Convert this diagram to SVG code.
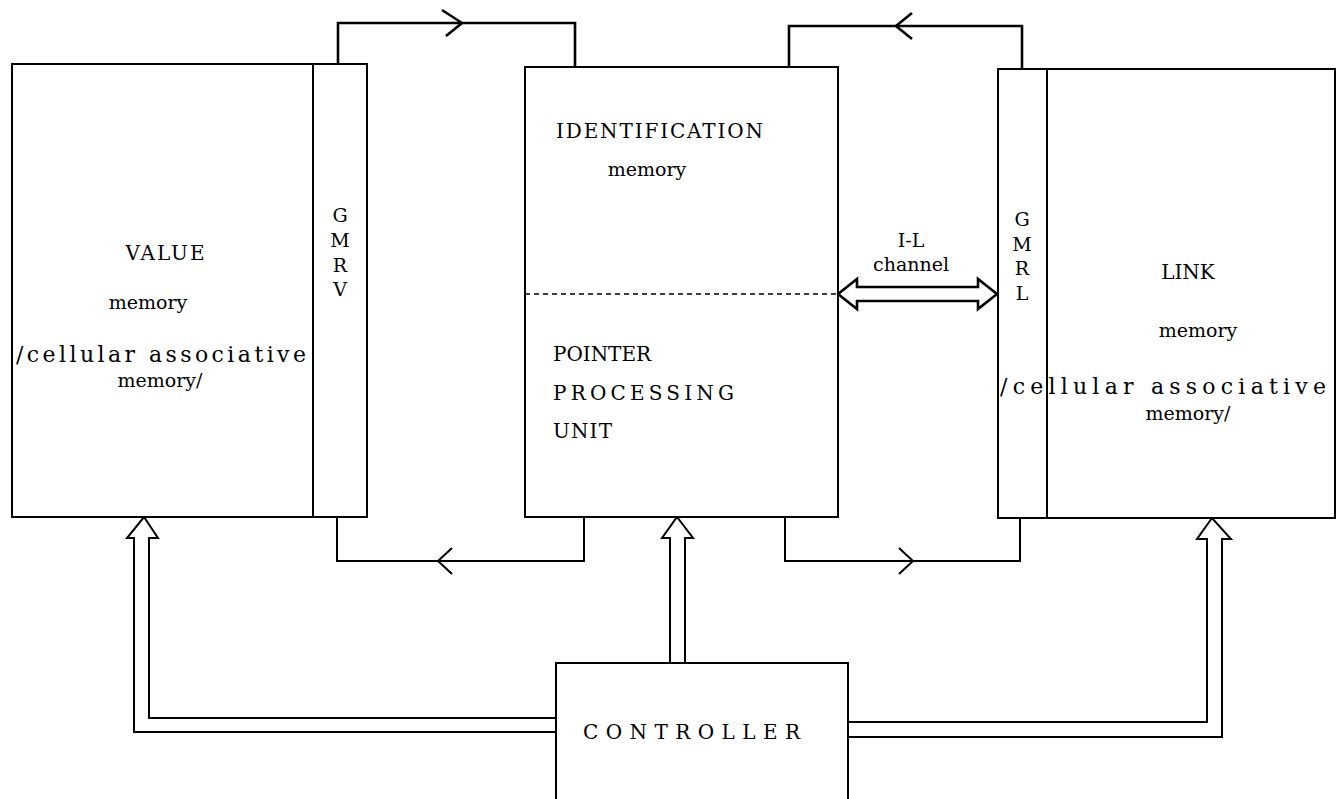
<svg xmlns="http://www.w3.org/2000/svg" width="1337" height="799" viewBox="0 0 1337 799">
<style>
.box{fill:#fff;stroke:#000;stroke-width:2}
.ln{fill:none;stroke:#000;stroke-width:2;stroke-linejoin:miter}
.thk{fill:none;stroke:#000;stroke-width:2.6}
.dash{fill:none;stroke:#000;stroke-width:1.6;stroke-dasharray:5,4}
text{font-family:"DejaVu Serif","Liberation Serif",serif;font-size:19px;fill:#000}
.cap{font-size:20px}
.wide{font-size:22px}
.c{text-anchor:middle}
</style>
<rect width="1337" height="799" fill="#fff"/>
<g id="connectors">
  <path class="thk" d="M338,64 V23 H575 V67"/>
  <path class="thk" d="M442,10 L462,23 L446,36"/>
  <path class="thk" d="M789,68 V26 H1022 V69"/>
  <path class="thk" d="M912,13 L896,26 L912,39"/>
  <path class="ln" d="M584,517 V561 H337 V517"/>
  <path class="ln" d="M452,548 L438,561 L452,574"/>
  <path class="ln" d="M785,517 V561 H1020 V517"/>
  <path class="ln" d="M899,548 L913,561 L899,574"/>
  <path class="thk" d="M838,294 L857,279 V287 H978 V279 L997,294 L978,309 V301 H857 V309 Z"/>
  <path class="ln" d="M556,718 H149 V538 H158 L144,517 L127,538 H134 V732 H556"/>
  <path class="ln" d="M848,722 H1207 V539 H1197 L1212,518 L1231,539 H1222 V737 H848"/>
  <path class="ln" d="M670,663 V538 H662 L677,517 L693,538 H685 V663"/>
</g>
<g id="value">
  <rect class="box" x="12" y="64" width="301" height="453"/>
  <text x="166" y="260" class="c cap" letter-spacing="2">VALUE</text>
  <text x="148" y="309" class="c">memory</text>
  <text x="16" y="362" class="wide" textLength="290">/cellular associative</text>
  <text x="160" y="387" class="c">memory/</text>
</g>
<g id="gmrv">
  <rect class="box" x="313" y="64" width="54" height="453"/>
  <text x="340" y="222" class="c">G</text>
  <text x="340" y="247" class="c">M</text>
  <text x="340" y="272" class="c">R</text>
  <text x="340" y="296" class="c">V</text>
</g>
<g id="identification">
  <rect class="box" x="525" y="67" width="313" height="450"/>
  <line class="dash" x1="525" y1="294" x2="838" y2="294"/>
  <text x="556" y="138" class="cap" textLength="207">IDENTIFICATION</text>
  <text x="647" y="176" class="c">memory</text>
  <text x="553" y="361" class="cap" textLength="98">POINTER</text>
  <text x="553" y="400" class="cap" textLength="181">PROCESSING</text>
  <text x="553" y="438" class="cap" textLength="59">UNIT</text>
</g>
<g id="channel-label">
  <text x="911" y="247" class="c">I-L</text>
  <text x="911" y="271" class="c">channel</text>
</g>
<g id="gmrl">
  <rect class="box" x="998" y="69" width="49" height="449"/>
  <text x="1022" y="226" class="c">G</text>
  <text x="1022" y="251" class="c">M</text>
  <text x="1022" y="275" class="c">R</text>
  <text x="1022" y="300" class="c">L</text>
</g>
<g id="link">
  <rect class="box" x="1047" y="69" width="288" height="449"/>
  <text x="1188" y="279" class="c cap">LINK</text>
  <text x="1198" y="337" class="c">memory</text>
  <text x="1000" y="394" class="wide" textLength="326">/cellular associative</text>
  <text x="1188" y="420" class="c">memory/</text>
</g>
<g id="controller">
  <path class="ln" d="M556,805 V663 H848 V805"/>
  <text x="583" y="739" class="cap" textLength="217">CONTROLLER</text>
</g>
</svg>
